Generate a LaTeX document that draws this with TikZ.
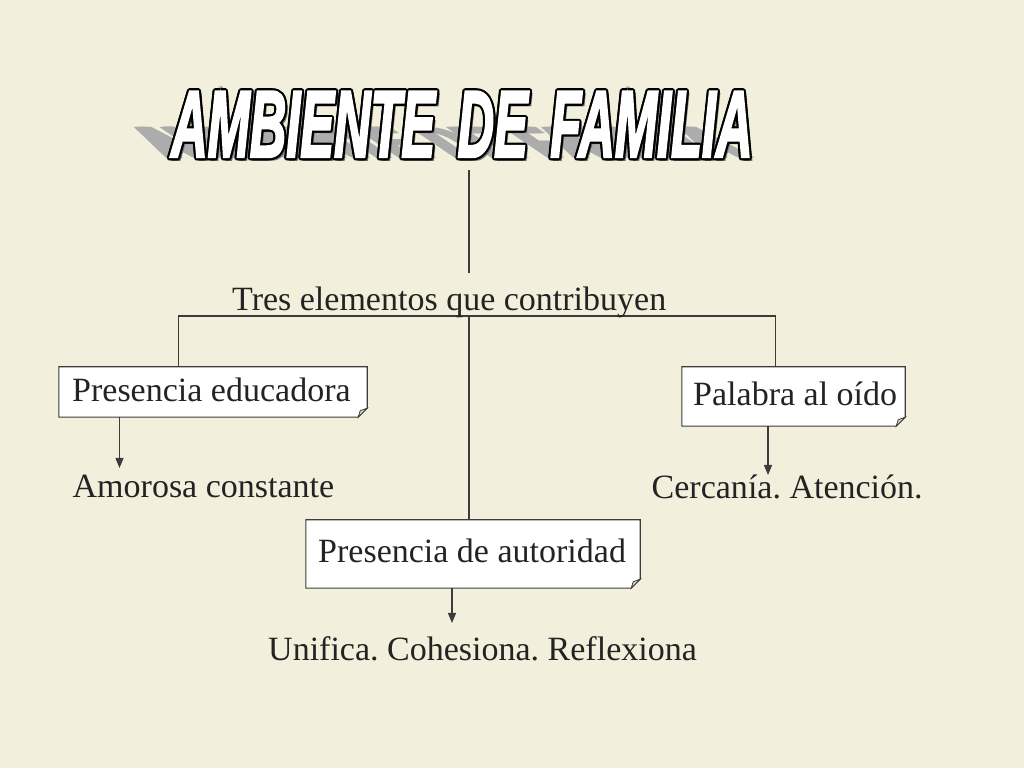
\documentclass[tikz,border=0pt]{standalone}
\usepackage{fontspec}
\usepackage{graphicx}
\setmainfont{Liberation Serif}
\newfontfamily\titlefont{Liberation Sans}[BoldItalicFeatures={FakeBold=3}]
\usetikzlibrary{arrows.meta}
\definecolor{bg}{RGB}{242,240,220}
\definecolor{ink}{RGB}{35,35,35}
\definecolor{edge}{RGB}{60,60,60}
\definecolor{shade}{RGB}{172,172,172}
\definecolor{dropgray}{RGB}{110,110,110}
\newcommand{\ambtitle}{\resizebox{581pt}{65pt}{\titlefont\bfseries\itshape AMBIENTE\,\ DE\,\ FAMILIA}}
\newcommand{\notebox}[1]{%
  \filldraw[fill=white, draw=edge, line width=1.1pt]
    (#1.north west) -- (#1.north east) -- ([yshift=9pt]#1.south east)
    -- ([xshift=-9pt]#1.south east) -- (#1.south west) -- cycle;
  \filldraw[fill=gray!35, draw=edge, line width=0.8pt]
    ([xshift=-9pt]#1.south east) -- ([xshift=-7pt,yshift=6.5pt]#1.south east)
    -- ([yshift=9pt]#1.south east) -- cycle;}
\frenchspacing
\begin{document}
\begin{tikzpicture}[x=1pt,y=1pt,
  txt/.style={font=\fontsize{34}{40}\selectfont, text=ink, inner sep=0pt, anchor=base west},
  titlebox/.style={inner sep=0pt, anchor=south west},
  boxnode/.style={inner sep=0pt, draw=none},
  conn/.style={draw=edge, line width=1.2pt},
  arr/.style={conn, -{Triangle[length=10pt,width=8pt]}}]
\useasboundingbox (0,0) rectangle (1024,768);
\fill[bg] (0,0) rectangle (1024,768);

% title
\coordinate (tpos) at (171,611);
\begin{scope}[cm={1,0,-0.77,0.45,(0,611)}]
  \foreach \s in {-4,-2,0,2,4}
    \node[titlebox, text=shade, transform shape] (tshadow\s) at (171+\s,0) {\ambtitle};
\end{scope}
\node[titlebox, text=dropgray] (tdrop) at ([shift={(2.6,-2.6)}]tpos) {\ambtitle};
\foreach \a in {0,30,...,330}
  \node[titlebox, text=black] (tout\a) at ([shift={(\a:2.1)}]tpos) {\ambtitle};
\node[titlebox, text=white] (title) at (tpos) {\ambtitle};

% connectors
\coordinate (ttop) at (469,598);
\coordinate (tbot) at (469,495);
\coordinate (hub) at (469,452);

\node[boxnode, minimum width=308pt, minimum height=50pt] (B1) at (213,376) {};
\node[boxnode, minimum width=223pt, minimum height=59pt] (B2) at (793.5,371.5) {};
\node[boxnode, minimum width=334pt, minimum height=68pt] (B3) at (473,214) {};

\draw[conn] (ttop) -- (tbot);
\draw[conn] ([xshift=120pt]B1.north west) |- (hub) -| ([xshift=94pt]B2.north west);
\draw[conn] (hub) -- (hub |- B3.north);

\notebox{B1}
\notebox{B2}
\notebox{B3}

\coordinate (e1) at (119.5,300);
\coordinate (e2) at (768,293);
\coordinate (e3) at (452,145);
\draw[arr] (B1.south west -| e1) -- (e1);
\draw[arr] (B2.south west -| e2) -- (e2);
\draw[arr] (B3.south west -| e3) -- (e3);

% texts
\node[txt] (tres) at (232,457) {Tres elementos que contribuyen};
\node[txt] (t1) at (72,366) {Presencia educadora};
\node[txt] (t2) at (693,362) {Palabra al oído};
\node[txt] (t3) at (318,205) {Presencia de autoridad};
\node[txt] (am) at (72.5,270) {Amorosa constante};
\node[txt] (ce) at (651.5,269) {Cercanía. Atención.};
\node[txt] (un) at (268,107.3) {Unifica. Cohesiona. Reflexiona};
\end{tikzpicture}
\end{document}
